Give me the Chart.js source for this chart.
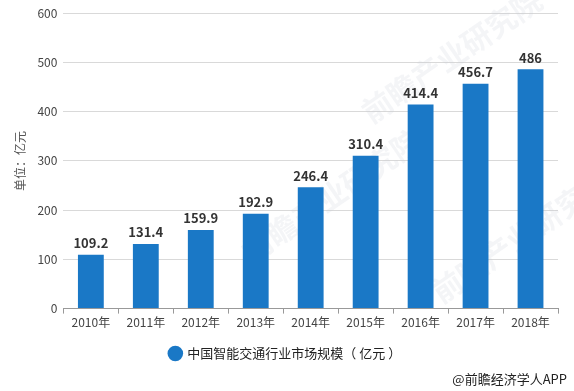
<!DOCTYPE html>
<html>
<head>
<meta charset="utf-8">
<script src="https://cdn.jsdelivr.net/npm/chart.js@4.4.1/dist/chart.umd.min.js"></script>
<style>
  html, body { margin: 0; padding: 0; background: #fff; }
  #wrap { position: relative; width: 574px; height: 391px; }
</style>
</head>
<body>
<div id="wrap"><canvas id="myChart" width="574" height="391"></canvas></div>
<script>
// data
var years = ["2010年", "2011年", "2012年", "2013年", "2014年", "2015年", "2016年", "2017年", "2018年"];
var marketSize = [109.2, 131.4, 159.9, 192.9, 246.4, 310.4, 414.4, 456.7, 486];
var yTicks = [0, 100, 200, 300, 400, 500, 600];
var seriesName = "中国智能交通行业市场规模（ 亿元 ）";

var fontFam = "'Microsoft YaHei', 'Noto Sans CJK SC', sans-serif";

// value labels above the bars
var barLabels = {
  id: "barLabels",
  afterDatasetsDraw: function(chart) {
    var ctx = chart.ctx;
    var meta = chart.getDatasetMeta(0);
    ctx.save();
    ctx.font = "bold 13px " + fontFam;
    ctx.fillStyle = "#333";
    ctx.textAlign = "center";
    ctx.textBaseline = "bottom";
    meta.data.forEach(function(bar, i) {
      ctx.fillText(String(marketSize[i]), bar.x, bar.y - 5);
    });
    ctx.restore();
  }
};

// faint watermark + source text
var extras = {
  id: "extras",
  beforeDatasetsDraw: function(chart) {
    var ctx = chart.ctx;
    ctx.save();
    ctx.fillStyle = "rgba(200,205,215,0.2)";
    ctx.font = "bold 30px " + fontFam;
    [[365, 115], [245, 255], [435, 295]].forEach(function(p) {
      ctx.save();
      ctx.translate(p[0], p[1]);
      ctx.rotate(-0.6);
      ctx.fillText("前瞻产业研究院", 0, 0);
      ctx.restore();
    });
    ctx.restore();
  },
  afterDraw: function(chart) {
    var ctx = chart.ctx;
    ctx.save();
    ctx.font = "13px " + fontFam;
    ctx.fillStyle = "#222";
    ctx.textAlign = "right";
    ctx.textBaseline = "middle";
    ctx.fillText("@前瞻经济学人APP", 567, 379);
    ctx.restore();
  }
};

var ctx = document.getElementById("myChart");
var chart = new Chart(ctx, {
  type: "bar",
  data: {
    labels: years,
    datasets: [{
      label: seriesName,
      data: marketSize,
      backgroundColor: "#1a78c6",
      borderWidth: 0,
      barPercentage: 0.47,
      categoryPercentage: 1.0
    }]
  },
  options: {
    responsive: false,
    animation: false,
    layout: { padding: { top: 7, right: 16, bottom: 21, left: 13 } },
    plugins: {
      legend: {
        display: true,
        position: "bottom",
        labels: {
          usePointStyle: true,
          pointStyle: "circle",
          boxWidth: 11,
          boxHeight: 11,
          color: "#222",
          padding: 15,
          font: { size: 13, family: fontFam }
        }
      },
      tooltip: { enabled: false },
      title: { display: false }
    },
    scales: {
      x: {
        grid: {
          display: true,
          drawOnChartArea: false,
          drawTicks: true,
          tickLength: 5,
          color: "#999",
          offset: true
        },
        border: { color: "#999" },
        ticks: { color: "#444", font: { size: 12, family: fontFam }, padding: 2 }
      },
      y: {
        min: 0,
        max: 600,
        afterBuildTicks: function(axis) {
          axis.ticks = yTicks.map(function(v) { return { value: v }; });
        },
        grid: { color: "#d9d9d9", drawTicks: false },
        border: { display: false },
        ticks: { color: "#444", font: { size: 12, family: fontFam }, padding: 6 },
        title: {
          display: true,
          text: "单位：亿元",
          color: "#555",
          font: { size: 12, family: fontFam },
          padding: { top: 0, bottom: 4 }
        }
      }
    }
  },
  plugins: [barLabels, extras]
});
</script>
</body>
</html>
